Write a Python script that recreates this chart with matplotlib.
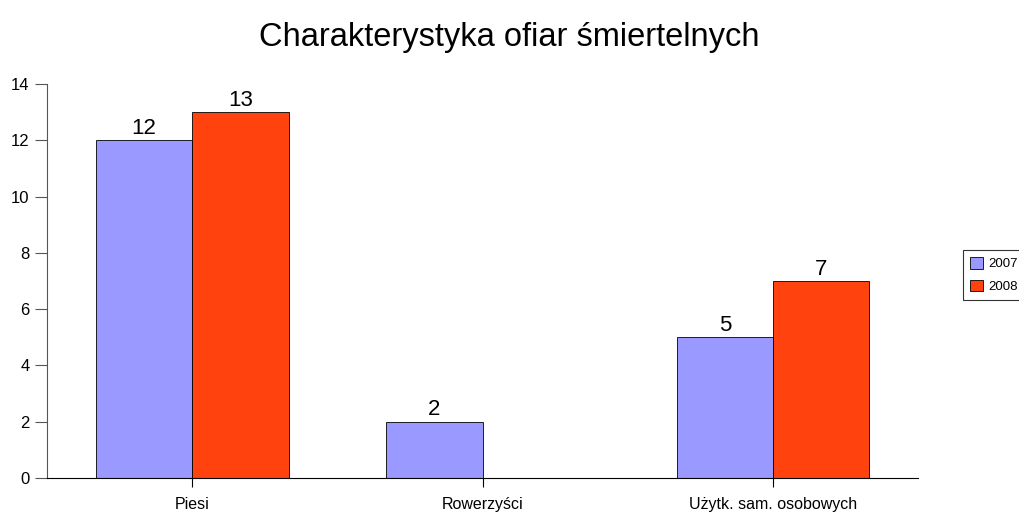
import matplotlib
matplotlib.use("Agg")
import matplotlib.pyplot as plt
import numpy as np

plt.rcParams['font.family'] = ['Liberation Sans', 'DejaVu Sans']

categories = ["Piesi", "Rowerzyści", "Użytk. sam. osobowych"]
series_names = ["2007", "2008"]
values_2007 = [12, 2, 5]
values_2008 = [13, 0, 7]
y_ticks = [0, 2, 4, 6, 8, 10, 12, 14]
colors = ["#9999FF", "#FF420E"]

fig = plt.figure(figsize=(10.19, 5.15), dpi=100)
ax = fig.add_axes([0.0461, 0.0718, 0.855, 0.765])

x = np.arange(len(categories))
w = 0.332
bars = []
for i, (vals, c, name) in enumerate(zip([values_2007, values_2008], colors, series_names)):
    b = ax.bar(x + (i - 0.5) * w, vals, w, color=c, edgecolor="black", linewidth=0.6, label=name)
    bars.append(b)
    for rect, v in zip(b, vals):
        if v:
            ax.text(rect.get_x() + rect.get_width() / 2, v + 0.05, str(v),
                    ha="center", va="bottom", fontsize=16)

ax.set_xlim(-0.5, 2.5)
ax.set_ylim(0, 14)
ax.set_yticks(y_ticks)
ax.set_xticks(x)
ax.set_xticklabels(categories, fontsize=11.5)
ax.tick_params(axis="y", labelsize=12, length=8.5, width=0.8, color="#555555", pad=4)
ax.tick_params(axis="x", length=6.5, width=0.8, pad=7)
ax.spines["top"].set_visible(False)
ax.spines["right"].set_visible(False)
ax.spines["left"].set_color("#555555")

fig.text(0.5, 0.927, "Charakterystyka ofiar śmiertelnych", ha="center", va="center", fontsize=23.5)

leg = fig.legend(handles=bars, labels=series_names, loc="upper left",
                 bbox_to_anchor=(963 / 1019, 1 - 250 / 515), fontsize=9.5,
                 frameon=True, fancybox=False, edgecolor="black",
                 handlelength=0.95, handleheight=0.95, handletextpad=0.4,
                 borderpad=0.55, labelspacing=0.7, borderaxespad=0)
leg.get_frame().set_linewidth(0.8)

fig.savefig("out.png", dpi=100)
